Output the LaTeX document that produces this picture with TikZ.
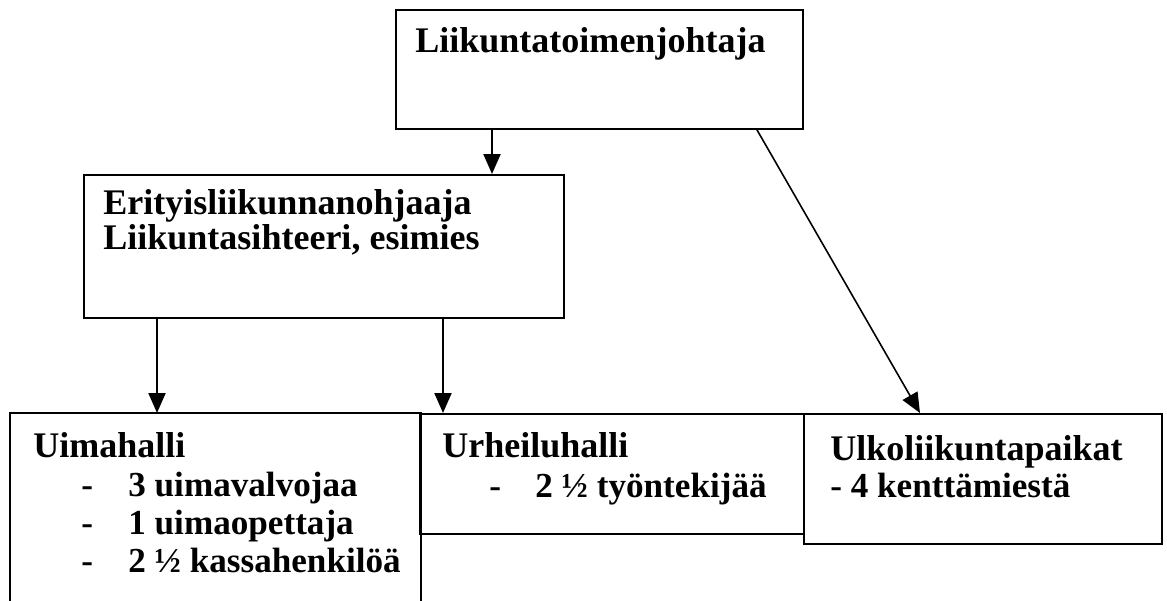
\documentclass[tikz,border=0pt]{standalone}
\usepackage{fontspec}
\setmainfont{Liberation Serif}
\usetikzlibrary{arrows.meta}

\begin{document}
\begin{tikzpicture}[x = 0.02cm, y = -0.02cm,
    box/.style = {draw, line width = 1.1pt, anchor = north west, inner sep = 0pt},
    lbl/.style = {anchor = base west, inner sep = 0pt, font = \bfseries\fontsize{20.5}{24}\selectfont},
    item/.style = {lbl, font = \bfseries\fontsize{20}{24}\selectfont},
    arr/.style = {-{Triangle[length = 0.4cm, width = 0.34cm]}, line width = 1.2pt}]
            \useasboundingbox (0,0) rectangle (1167,601);

            % boxes
            \node[box, minimum width = 8.14cm, minimum height = 2.38cm] (johtaja) at (395,9) {};
            \node[box, minimum width = 9.6cm, minimum height = 2.86cm] (ohjaaja) at (83,174) {};
            \node[box, draw = none, minimum width = 8.18cm, minimum height = 3.76cm] (uimahalli) at (10,413) {};
            \draw[line width = 1.1pt] (uimahalli.south west) |- (uimahalli.north east) -- (uimahalli.south east);
            \node[box, minimum width = 7.68cm, minimum height = 2.4cm] (urheiluhalli) at (419,413) {};
            \node[box, minimum width = 7.16cm, minimum height = 2.6cm] (ulko) at (803,413) {};

            % texts
            \node[lbl] (t1) at (415,53) {Liikuntatoimenjohtaja};
            \node[lbl] (t2) at (103,215) {Erityisliikunnanohjaaja};
            \node[lbl] (t3) at (103,250) {Liikuntasihteeri, esimies};
            \node[lbl] (t4) at (33,458) {Uimahalli};
            \node[item] (d1) at (81,496) {-};
            \node[item] (u1) at (128,496) {3 uimavalvojaa};
            \node[item] (d2) at (81,534) {-};
            \node[item] (u2) at (128,534) {1 uimaopettaja};
            \node[item] (d3) at (81,572) {-};
            \node[item] (u3) at (128,572) {2 ½ kassahenkilöä};
            \node[lbl] (t5) at (442,457) {Urheiluhalli};
            \node[item] (d4) at (489,497) {-};
            \node[item] (h1) at (535,497) {2 ½ työntekijää};
            \node[lbl] (t6) at (830,460) {Ulkoliikuntapaikat};
            \node[item] (k1) at (830,497) {- 4 kenttämiestä};

            % arrows
            \path (johtaja.south west) ++(97,0) coordinate (a1);
            \path (ohjaaja.south west) ++(74,0) coordinate (a2);
            \path (ohjaaja.south west) ++(360,0) coordinate (a3);
            \path (johtaja.south west) ++(362,0) coordinate (a4);
            \path (ulko.north west) ++(117,0) coordinate (a5);
            \draw[arr] (a1) -- (a1 |- ohjaaja.north);
            \draw[arr] (a2) -- (a2 |- uimahalli.north);
            \draw[arr] (a3) -- (a3 |- urheiluhalli.north);
            \draw[arr, line width = 0.9pt] (a4) -- (a5);
        \end{tikzpicture}
\end{document}
